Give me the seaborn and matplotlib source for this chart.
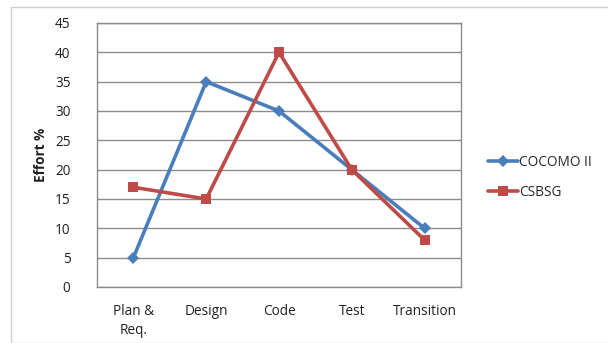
import matplotlib
matplotlib.use("Agg")
import matplotlib.pyplot as plt
import seaborn as sns
import pandas as pd
from matplotlib.patches import Rectangle

phases = ["Plan &\nReq.", "Design", "Code", "Test", "Transition"]
cocomo = [5, 35, 30, 20, 10]
csbsg = [17, 15, 40, 20, 8]
series_names = ["COCOMO II", "CSBSG"]
y_ticks = [0, 5, 10, 15, 20, 25, 30, 35, 40, 45]

df = pd.DataFrame({
    "phase": phases * 2,
    "effort": cocomo + csbsg,
    "model": [series_names[0]] * len(phases) + [series_names[1]] * len(phases),
})

sns.set_theme(style="white")
plt.rcParams["font.family"] = ["Open Sans", "DejaVu Sans"]

fig = plt.figure(figsize=(6.08, 3.43), dpi=100)
ax = fig.add_axes([97 / 608, 1 - 287 / 343, (461 - 97) / 608, (287 - 23) / 343])

palette = {"COCOMO II": "#4A7EBB", "CSBSG": "#BE4B48"}
sns.lineplot(
    data=df, x="phase", y="effort", hue="model", style="model",
    markers={"COCOMO II": "D", "CSBSG": "s"}, dashes=False,
    palette=palette, linewidth=2.6, markersize=7, markeredgewidth=0,
    sort=False, ax=ax,
)
# make the diamond a bit smaller than the square
for line in ax.lines:
    if line.get_marker() == "D":
        line.set_markersize(6)

ax.set_xlim(-0.5, len(phases) - 0.5)
ax.set_ylim(0, 45)
ax.set_yticks(y_ticks)
ax.set_yticklabels([str(t) for t in y_ticks])
ax.yaxis.grid(True, color="#8c8c8c", linewidth=1.0)
ax.set_axisbelow(True)
for s in ax.spines.values():
    s.set_color("#8c8c8c")
    s.set_linewidth(1.0)
ax.tick_params(axis="both", length=0, labelsize=9.8, colors="#202020")
ax.tick_params(axis="y", pad=19)
ax.tick_params(axis="x", pad=12)
for lbl in ax.get_xticklabels():
    lbl.set_linespacing(1.4)
ax.set_xlabel("")
ax.set_ylabel("Effort %", fontsize=9.8, fontweight="bold", color="#202020", labelpad=5)

handles, labels = ax.get_legend_handles_labels()
leg = ax.legend(
    handles, labels, loc="center left", bbox_to_anchor=(1.04, 0.415),
    frameon=False, fontsize=9.8, handlelength=2.2, handletextpad=0.1,
    labelspacing=1.1,
)

# outer chart border
fig.patches.append(Rectangle((11 / 608, 0), 1.0, 1 - 7 / 343, transform=fig.transFigure,
                             fill=False, edgecolor="#d0d0d0", linewidth=1.0))

fig.savefig("out.png", dpi=100, facecolor="white")
